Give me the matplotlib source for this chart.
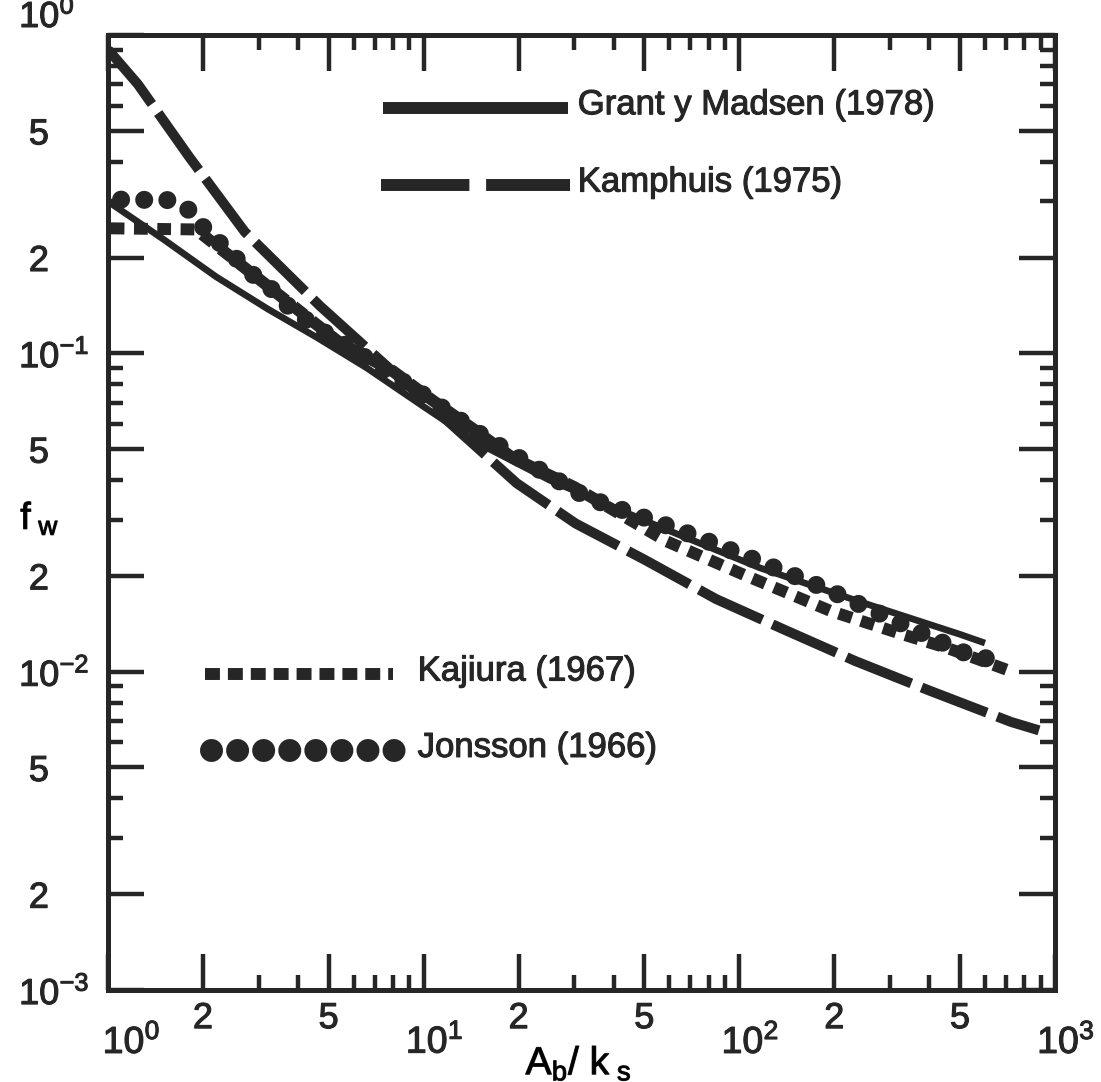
import matplotlib
matplotlib.use("Agg")
import matplotlib.pyplot as plt
from matplotlib import patheffects
from matplotlib.ticker import FixedLocator, FixedFormatter, NullFormatter

# ---------------- data ----------------
grant_x = [1.0, 1.5, 2.2, 3.2, 4.6, 6.6, 10, 15, 25, 56, 116, 240, 500, 600]
grant_y = [0.30, 0.228, 0.174, 0.138, 0.112, 0.090, 0.068, 0.052, 0.040, 0.0285, 0.0212, 0.0166, 0.0131, 0.0123]

kamp_x = [1.0, 1.244, 1.805, 2.71, 4.69, 19.7, 30.3, 50.0, 84.5, 140, 233, 399, 726, 890]
kamp_y = [0.90, 0.70, 0.415, 0.241, 0.141, 0.0391, 0.0292, 0.0225, 0.0169, 0.0135, 0.0108, 0.00873, 0.00695, 0.00654]

kaj_x = [1.02, 1.9, 5.42, 7.98, 10.7, 14.3, 19.1, 30, 58.7, 104, 195, 321, 452, 731]
kaj_y = [0.247, 0.245, 0.108, 0.088, 0.071, 0.058, 0.047, 0.038, 0.0257, 0.0201, 0.0155, 0.0132, 0.0119, 0.0100]

jon_x = [1.1, 1.55, 1.82, 2.07, 2.43, 2.77, 3.3, 3.82, 4.62, 7.0, 10, 15, 20, 33, 63, 101, 155, 188, 523, 632]
jon_y = [0.304, 0.303, 0.281, 0.239, 0.209, 0.182, 0.159, 0.137, 0.120, 0.093, 0.074, 0.056, 0.047, 0.0352, 0.0281, 0.0234, 0.0197, 0.0182, 0.0114, 0.0109]

series_names = ["Grant y Madsen (1978)", "Kamphuis (1975)", "Kajiura (1967)", "Jonsson (1966)"]

x_major = [1, 2, 5, 10, 20, 50, 100, 200, 500, 1000]
x_major_labels = [r"$\mathregular{\hspace{1.5}10^0}$", "2", "5", r"$\mathregular{\hspace{0.7}10^1}$", "2", "5",
                  r"$\mathregular{\hspace{0.7}10^2}$", "2", "5", r"$\mathregular{\hspace{0.7}10^3}$"]
x_minor = [3, 4, 6, 7, 8, 9, 30, 40, 60, 70, 80, 90, 300, 400, 600, 700, 800, 900]

y_major = [1e-3, 2e-3, 5e-3, 1e-2, 2e-2, 5e-2, 1e-1, 2e-1, 5e-1, 1]
y_major_labels = [r"$\mathregular{10^{-3}}$", "2", "5", r"$\mathregular{10^{-2}}$", "2", "5",
                  r"$\mathregular{10^{-1}}$", "2", "5", r"$\mathregular{10^0}$"]
y_minor = [3e-3, 4e-3, 6e-3, 7e-3, 8e-3, 9e-3, 3e-2, 4e-2, 6e-2, 7e-2, 8e-2, 9e-2,
           0.3, 0.4, 0.6, 0.7, 0.8, 0.9]

# ---------------- style ----------------
INK = "#262626"
plt.rcParams["font.family"] = ["Liberation Sans", "DejaVu Sans"]
plt.rcParams["mathtext.fontset"] = "custom"
plt.rcParams["mathtext.rm"] = "Liberation Sans"
plt.rcParams["mathtext.it"] = "Liberation Sans:italic"
plt.rcParams["mathtext.bf"] = "Liberation Sans:bold"
plt.rcParams["text.color"] = INK
PE = [patheffects.withStroke(linewidth=0.8, foreground=INK)]

fig = plt.figure(figsize=(11.01, 10.82), dpi=100)
ax = fig.add_axes([108 / 1101, 1 - 990 / 1082, (1055 - 108) / 1101, (990 - 35) / 1082])
ax.set_xscale("log")
ax.set_yscale("log")
ax.set_xlim(1, 1000)
ax.set_ylim(1e-3, 1)

# curves
ax.plot(grant_x, grant_y, color=INK, lw=4.8, solid_capstyle="butt", solid_joinstyle="round")
ax.plot(kamp_x, kamp_y, color=INK, lw=7.2, linestyle=(0, (7.0, 1.1)), dash_capstyle="butt")
ax.plot(kaj_x, kaj_y, color=INK, lw=8.6, linestyle=(0, (1.15, 0.8)), dash_capstyle="butt")
ax.plot(jon_x, jon_y, color=INK, lw=13, linestyle=(0, (0.001, 1.28)), dash_capstyle="round")

# legend (drawn manually, like the original figure)
T = ax.transAxes
fs_leg = 25
ax.plot([0.290, 0.486], [0.924, 0.924], transform=T, color=INK, lw=8.6, solid_capstyle="butt")
ax.text(0.496, 0.927, series_names[0], transform=T, fontsize=fs_leg, va="center", ha="left",
        path_effects=PE)
ax.plot([0.288, 0.488], [0.843, 0.843], transform=T, color=INK, lw=8.6,
        linestyle=(0, (7.4, 1.4)), dash_capstyle="butt")
ax.text(0.496, 0.846, series_names[1], transform=T, fontsize=fs_leg, va="center", ha="left",
        path_effects=PE)
ax.plot([0.1024, 0.301], [0.331, 0.331], transform=T, color=INK, lw=8.6,
        linestyle=(0, (1.25, 0.667)), dash_capstyle="butt")
ax.text(0.327, 0.334, series_names[2], transform=T, fontsize=fs_leg, va="center", ha="left",
        path_effects=PE)
ax.plot([0.1085, 0.3030], [0.251, 0.251], transform=T, color=INK, lw=16.6,
        linestyle=(0, (0.001, 1.13)), dash_capstyle="round")
ax.text(0.327, 0.254, series_names[3], transform=T, fontsize=fs_leg, va="center", ha="left",
        path_effects=PE)

# ticks
ax.xaxis.set_major_locator(FixedLocator(x_major))
ax.xaxis.set_major_formatter(FixedFormatter(x_major_labels))
ax.xaxis.set_minor_locator(FixedLocator(x_minor))
ax.xaxis.set_minor_formatter(NullFormatter())
ax.yaxis.set_major_locator(FixedLocator(y_major))
ax.yaxis.set_major_formatter(FixedFormatter(y_major_labels))
ax.yaxis.set_minor_locator(FixedLocator(y_minor))
ax.yaxis.set_minor_formatter(NullFormatter())

ax.tick_params(which="both", direction="in", top=True, right=True, colors=INK)
ax.tick_params(which="major", length=26, width=3.2)
ax.tick_params(which="minor", length=11, width=3.2)
for sp in ax.spines.values():
    sp.set_linewidth(3.6)
    sp.set_color(INK)

for lab, tick in zip(x_major_labels, ax.xaxis.get_major_ticks()):
    if lab.startswith("$"):
        tick.set_pad(24)
        tick.label1.set_fontsize(27)
    else:
        tick.set_pad(8)
        tick.label1.set_fontsize(26)
    tick.label1.set_path_effects(PE)

for lab, tick in zip(y_major_labels, ax.yaxis.get_major_ticks()):
    tick.set_pad(64 if lab.startswith("$") else 57)
    tick.label1.set_fontsize(26)
    tick.label1.set_horizontalalignment("left")
    tick.label1.set_path_effects(PE)
    if lab == y_major_labels[-1]:
        tick.label1.set_verticalalignment("bottom")

ax.set_xlabel(r"A$_\mathregular{b}$/ k$_\mathregular{\ s}$", fontsize=28, va="center",
              path_effects=PE)
ax.xaxis.set_label_coords(0.497, -0.077)
ax.set_ylabel(r"f$_\mathregular{\ w}$", fontsize=27, rotation=0, va="center", ha="center",
              path_effects=PE)
ax.yaxis.set_label_coords(-0.072, 0.494)

fig.savefig("out.png", dpi=100, facecolor="white")
